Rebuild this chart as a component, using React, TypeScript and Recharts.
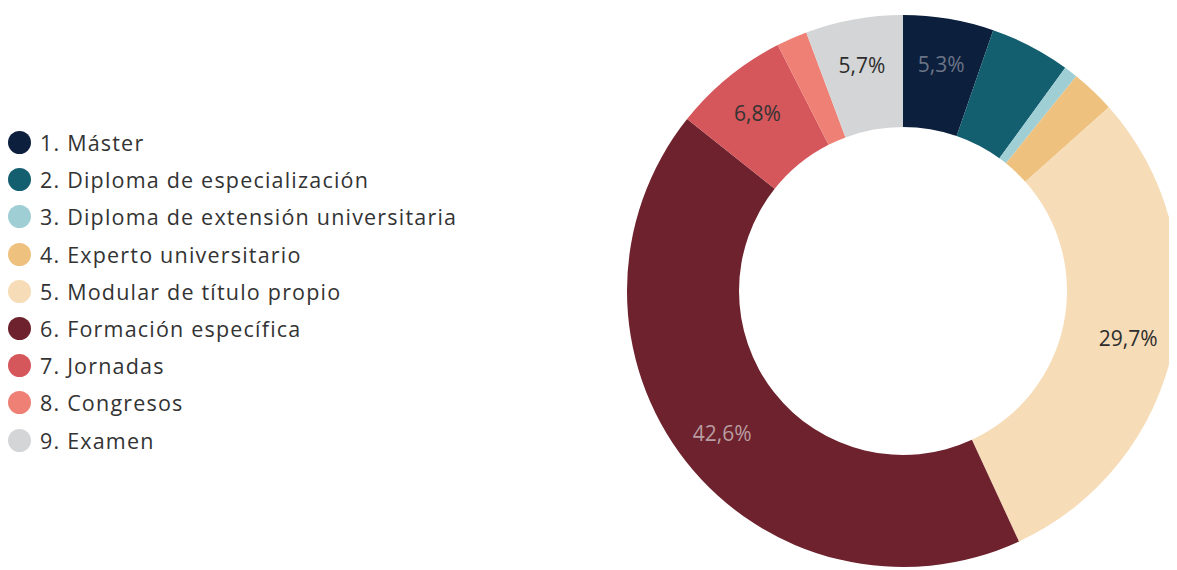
import React from 'react';
import { PieChart, Pie, Cell, Legend } from 'recharts';

const categories = [
  '1. Máster',
  '2. Diploma de especialización',
  '3. Diploma de extensión universitaria',
  '4. Experto universitario',
  '5. Modular de título propio',
  '6. Formación específica',
  '7. Jornadas',
  '8. Congresos',
  '9. Examen',
];
const shares = [5.3, 4.7, 0.8, 2.6, 29.7, 42.6, 6.8, 1.8, 5.7];
const colors = [
  '#0c1f3d',
  '#135e6f',
  '#9fcfd5',
  '#eec17f',
  '#f6dcb7',
  '#6d222d',
  '#d5565b',
  '#ee8075',
  '#d4d5d6',
];
const labelColors = [
  '#6b7486',
  '#333',
  '#333',
  '#333',
  '#2d2d2d',
  '#b89da1',
  '#333',
  '#333',
  '#2d2d2d',
];

const data = categories.map((name, i) => ({ name, value: shares[i] }));

const FONT = "'Open Sans', 'DejaVu Sans', sans-serif";
const RADIAN = Math.PI / 180;

const renderLabel = (props: any) => {
  const { cx, cy, midAngle, innerRadius, outerRadius, index, value } = props;
  if (value < 5) return null;
  const r = (innerRadius + outerRadius) / 2 + 10;
  const x = cx + r * Math.cos(-midAngle * RADIAN);
  const y = cy + r * Math.sin(-midAngle * RADIAN);
  return (
    <text
      x={x}
      y={y}
      fill={labelColors[index]}
      textAnchor='middle'
      dominantBaseline='central'
      fontSize={21}
      fontFamily={FONT}
    >
      {value.toFixed(1).replace('.', ',')}%
    </text>
  );
};

const renderLegend = () => (
  <div style={{ fontFamily: FONT }}>
    {data.map((d, i) => (
      <div
        key={d.name}
        style={{ display: 'flex', alignItems: 'center', height: 37.2 }}
      >
        <span
          style={{
            width: 23,
            height: 23,
            borderRadius: '50%',
            background: colors[i],
            display: 'inline-block',
            marginRight: 9,
          }}
        />
        <span style={{ fontSize: 21.5, color: '#333', letterSpacing: 1.2 }}>
          {d.name}
        </span>
      </div>
    ))}
  </div>
);

const App: React.FC = () => {
  return (
    <div style={{ width: 1169, height: 562 }}>
      <PieChart
        width={1169}
        height={562}
        margin={{ top: 0, right: 0, bottom: 0, left: 0 }}
      >
        <Pie
          data={data}
          dataKey='value'
          nameKey='name'
          cx={895}
          cy={283}
          innerRadius={164}
          outerRadius={276}
          startAngle={90}
          endAngle={-270}
          stroke='none'
          label={renderLabel}
          labelLine={false}
          isAnimationActive={false}
        >
          {data.map((d, i) => (
            <Cell key={d.name} fill={colors[i]} />
          ))}
        </Pie>
        <Legend
          content={renderLegend}
          wrapperStyle={{ position: 'absolute', left: 0, top: 116, width: 520 }}
        />
      </PieChart>
    </div>
  );
};

export default App;
